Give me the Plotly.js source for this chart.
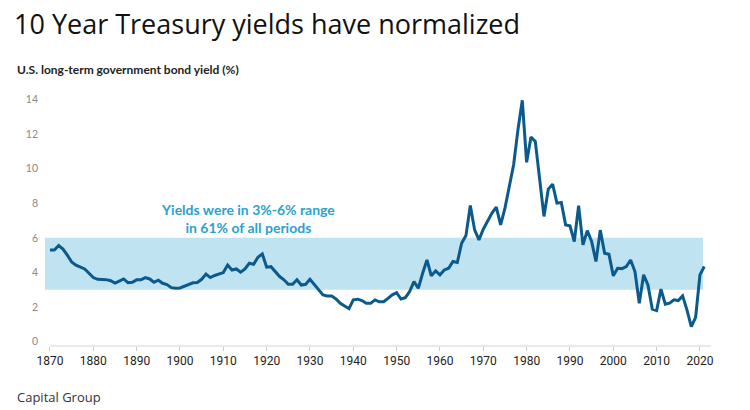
<!DOCTYPE html>
<html>
<head>
<meta charset="utf-8">
<script src="https://cdn.plot.ly/plotly-3.0.1.min.js"></script>
<style>html,body{margin:0;padding:0;background:#fff;}#chart{width:750px;height:410px;}</style>
</head>
<body>
<div id="chart"></div>
<script>
// Years (one value per year)
const years = [];
for (let y = 1870; y <= 2021; y++) years.push(y);

// U.S. long-term government bond yield (%)
const yields = [
  5.3, 5.3, 5.55, 5.35, 5.0, 4.6, 4.42, 4.32, 4.2, 3.95,          // 1870-1879
  3.7, 3.6, 3.6, 3.58, 3.52, 3.38, 3.5, 3.62, 3.41, 3.43,         // 1880-1889
  3.57, 3.57, 3.7, 3.62, 3.43, 3.55, 3.37, 3.3, 3.12, 3.08,       // 1890-1899
  3.1, 3.2, 3.3, 3.4, 3.42, 3.6, 3.9, 3.7, 3.82, 3.91,            // 1900-1909
  3.99, 4.43, 4.14, 4.2, 4.01, 4.2, 4.53, 4.47, 4.88, 5.07,       // 1910-1919
  4.3, 4.33, 4.05, 3.76, 3.57, 3.31, 3.31, 3.57, 3.27, 3.31,      // 1920-1929
  3.6, 3.31, 2.99, 2.7, 2.64, 2.64, 2.46, 2.21, 2.05, 1.9,        // 1930-1939
  2.41, 2.45, 2.37, 2.21, 2.21, 2.41, 2.3, 2.3, 2.5, 2.7,         // 1940-1949
  2.83, 2.46, 2.54, 2.89, 3.47, 3.08, 3.95, 4.72, 3.8, 4.09,      // 1950-1959
  3.86, 4.14, 4.24, 4.63, 4.57, 5.69, 6.13, 7.87, 6.46, 5.88,     // 1960-1969
  6.5, 6.95, 7.43, 7.78, 6.75, 7.72, 8.97, 10.23, 12.26, 13.96,   // 1970-1979
  10.37, 11.84, 11.58, 9.36, 7.24, 8.82, 9.11, 8.01, 8.05, 6.75,  // 1980-1989
  6.7, 5.79, 7.86, 5.59, 6.42, 5.79, 4.63, 6.45, 5.11, 5.05,      // 1990-1999
  3.8, 4.24, 4.22, 4.34, 4.72, 4.05, 2.21, 3.86, 3.27, 1.87,      // 2000-2009
  1.79, 3.03, 2.16, 2.22, 2.41, 2.37, 2.64, 1.83, 0.86, 1.4,      // 2010-2019
  3.86, 4.34                                                      // 2020-2021
];

// Highlighted range (%)
const rangeLow = 3;
const rangeHigh = 6;

const yTicks = [0, 2, 4, 6, 8, 10, 12, 14];
const xTicks = [1870, 1880, 1890, 1900, 1910, 1920, 1930, 1940, 1950, 1960, 1970, 1980, 1990, 2000, 2010, 2020];

const titleText = '10 Year Treasury yields have normalized';
const subtitleText = 'U.S. long-term government bond yield (%)';
const noteText = 'Yields were in 3%-6% range<br>in 61% of all periods';
const sourceText = 'Capital Group';

const trace = {
  x: years,
  y: yields,
  type: 'scatter',
  mode: 'lines',
  line: {color: '#0b5a8e', width: 3},
  hoverinfo: 'skip'
};

const layout = {
  width: 750,
  height: 410,
  margin: {l: 45, r: 39, t: 91, b: 64},
  paper_bgcolor: '#ffffff',
  plot_bgcolor: '#ffffff',
  showlegend: false,
  title: {
    text: titleText,
    font: {family: 'Open Sans, sans-serif', size: 27, color: '#111111'},
    x: 14 / 750, xref: 'container', xanchor: 'left',
    y: 1 - 25 / 410, yref: 'container', yanchor: 'middle'
  },
  xaxis: {
    range: [1868.85, 2022.55],
    tickmode: 'array',
    tickvals: xTicks,
    ticktext: xTicks.map(String),
    ticks: 'outside',
    ticklen: 4,
    tickcolor: '#cccccc',
    tickwidth: 1,
    showgrid: false,
    zeroline: false,
    showline: false,
    tickfont: {family: 'Liberation Sans Narrow, Roboto, sans-serif', size: 12, color: '#222222'},
    fixedrange: true
  },
  yaxis: {
    range: [-0.26, 14.5],
    tickmode: 'array',
    tickvals: yTicks,
    ticktext: yTicks.map(String),
    showgrid: false,
    zeroline: false,
    showline: false,
    ticks: '',
    ticklabelstandoff: 6,
    tickfont: {family: 'Lato, sans-serif', size: 10.5, color: '#8a8a8a'},
    fixedrange: true
  },
  shapes: [
    {
      type: 'rect', layer: 'below',
      xref: 'paper', x0: 0, x1: 0.988,
      yref: 'y', y0: rangeLow, y1: rangeHigh,
      fillcolor: '#bfe3f1', line: {width: 0}
    },
    {
      type: 'line', layer: 'below',
      xref: 'x', x0: years[0], yref: 'paper', y0: 0,
      x1: 2022.55, y1: 0,
      line: {color: '#d4d4d4', width: 1}
    }
  ],
  annotations: [
    {
      text: noteText,
      xref: 'paper', yref: 'paper',
      x: (248 - 45) / 666, y: (346 - 218) / 255,
      xanchor: 'center', yanchor: 'middle',
      showarrow: false, align: 'center',
      font: {family: 'Lato, sans-serif', size: 14, color: '#2aa2cc', weight: 'bold'}
    },
    {
      text: '<b>' + subtitleText + '</b>',
      xref: 'paper', yref: 'paper',
      x: (15 - 45) / 666, y: (346 - 69) / 255,
      xanchor: 'left', yanchor: 'middle',
      showarrow: false,
      font: {family: 'Lato, sans-serif', size: 12, color: '#222222'}
    },
    {
      text: sourceText,
      xref: 'paper', yref: 'paper',
      x: (15 - 45) / 666, y: (346 - 397) / 255,
      xanchor: 'left', yanchor: 'middle',
      showarrow: false,
      font: {family: 'Open Sans, sans-serif', size: 13, color: '#333333'}
    }
  ]
};

Plotly.newPlot('chart', [trace], layout, {staticPlot: true, displayModeBar: false});
</script>
</body>
</html>
